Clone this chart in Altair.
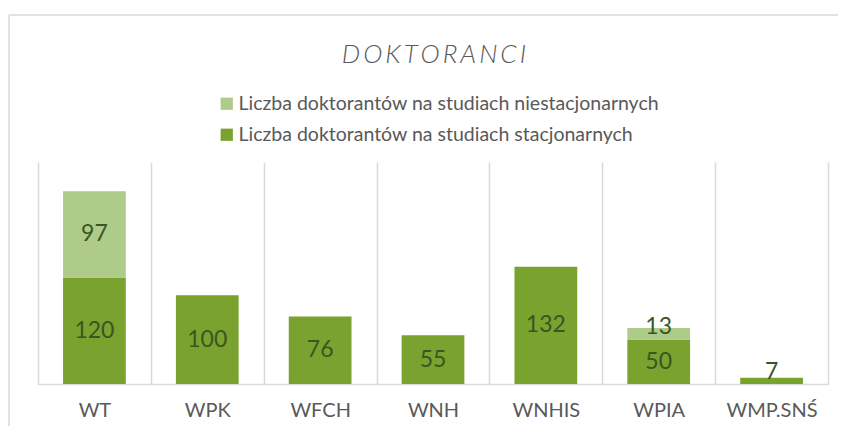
import altair as alt
import pandas as pd

categories = ["WT", "WPK", "WFCH", "WNH", "WNHIS", "WPIA", "WMP.SNŚ"]
stacjonarne = [120, 100, 76, 55, 132, 50, 7]
niestacjonarne = [97, 0, 0, 0, 0, 13, 0]

TITLE = "\u2009".join("DOKTORANCI")
S_STAC = "Liczba doktorantów na studiach stacjonarnych"
S_NIEST = "Liczba doktorantów na studiach niestacjonarnych"
series = [S_NIEST, S_STAC]
colors = ["#AFCB89", "#7AA22F"]

rows = []
for c, s, n in zip(categories, stacjonarne, niestacjonarne):
    rows.append({"cat": c, "series": S_STAC, "value": s, "ord": 0})
    rows.append({"cat": c, "series": S_NIEST, "value": n, "ord": 1})
df = pd.DataFrame(rows)

FONT = "Lato"
GRID = "#D9D9D9"

base = alt.Chart(df).transform_stack(
    stack="value", groupby=["cat"], as_=["y0", "y1"], sort=[alt.SortField("ord")]
)

x_enc = alt.X(
    "cat:N",
    sort=categories,
    title=None,
    scale=alt.Scale(paddingInner=0, paddingOuter=0),
    axis=alt.Axis(
        grid=True,
        gridColor=GRID,
        gridWidth=1.5,
        tickBand="extent",
        ticks=False,
        domain=True,
        domainColor=GRID,
        domainWidth=1.5,
        labelFont=FONT,
        labelFontSize=20,
        labelColor="#595959",
        labelPadding=16,
        labelAngle=0,
    ),
)
y_scale = alt.Scale(domain=[0, 250], nice=False)

bars = base.mark_bar(width=alt.RelativeBandSize(0.556)).encode(
    x=x_enc,
    y=alt.Y("y0:Q", scale=y_scale, axis=None),
    y2="y1:Q",
    color=alt.Color(
        "series:N",
        sort=series,
        scale=alt.Scale(domain=series, range=colors),
        legend=alt.Legend(
            title=None,
            orient="none",
            legendX=179,
            legendY=-68,
            direction="vertical",
            symbolType="square",
            symbolSize=150,
            symbolStrokeWidth=0,
            labelFont=FONT,
            labelFontSize=19.5,
            labelColor="#595959",
            labelLimit=0,
            rowPadding=10,
            labelOffset=2,
        ),
    ),
)

labels = base.transform_filter("datum.value > 0").transform_calculate(
    mid="datum.y0 + max(datum.value / 2, 14)"
).mark_text(font=FONT, fontSize=23, color="#375623", baseline="middle").encode(
    x=alt.X("cat:N", sort=categories),
    y=alt.Y("mid:Q", scale=y_scale),
    text="value:Q",
)

one = pd.DataFrame({"k": [0]})
border_v = alt.Chart(one).mark_rule(color=GRID, strokeWidth=1.5).encode(
    x=alt.value(-29), y=alt.value(-147), y2=alt.value(400)
)
border_h = alt.Chart(one).mark_rule(color=GRID, strokeWidth=1.5).encode(
    x=alt.value(-29), x2=alt.value(900), y=alt.value(-147)
)
title = alt.Chart(one).mark_text(
    font=FONT,
    fontSize=26,
    fontStyle="italic",
    fontWeight=300,
    color="#595959",
    align="center",
    baseline="alphabetic",
).encode(x=alt.value(396), y=alt.value(-99), text=alt.value(TITLE))

chart = (
    alt.layer(border_v, border_h, title, bars, labels)
    .properties(
        width=790,
        height=222,
        autosize=alt.AutoSizeParams(type="none"),
        padding={"left": 30, "top": 154, "right": 10, "bottom": 42},
    )
    .configure_view(stroke=None)
)

chart.save("out.html", embed_options={"renderer": "svg", "actions": False})
